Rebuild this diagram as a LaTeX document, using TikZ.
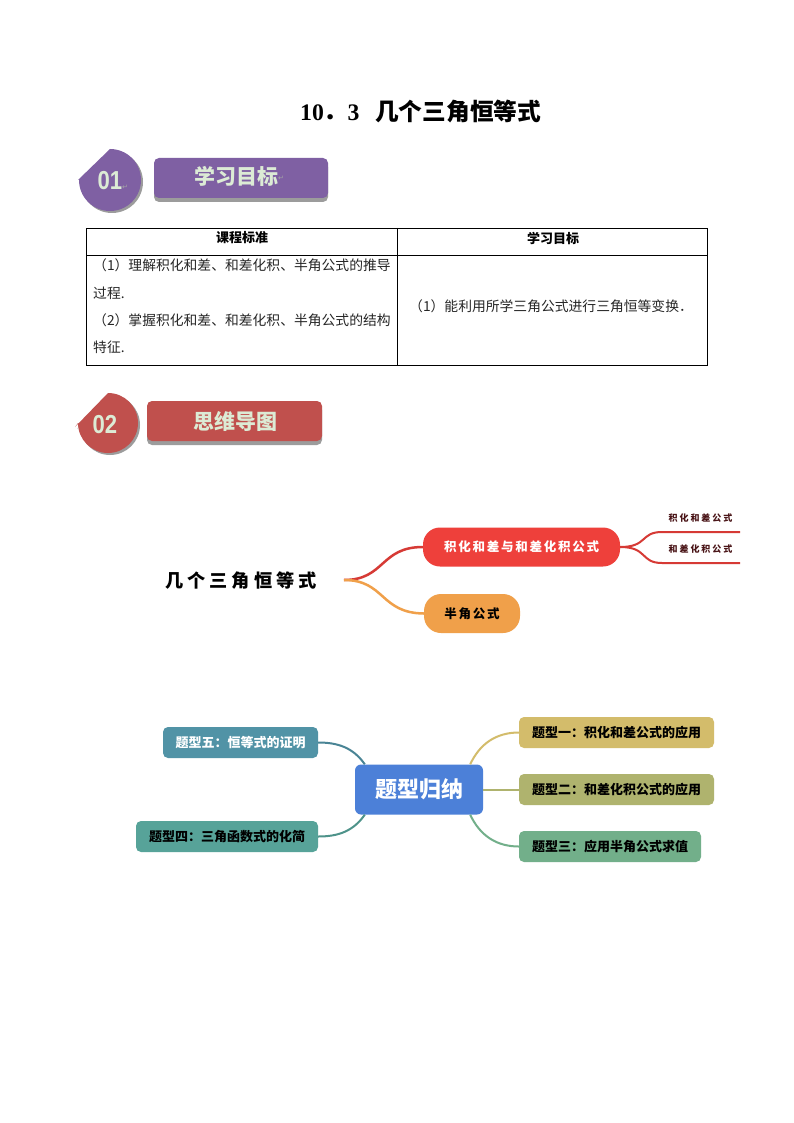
\documentclass[tikz,border=0pt]{standalone}
\usepackage{fontspec}
\setmainfont{Liberation Serif}
\newfontfamily\cjk{Noto Sans CJK SC}
\newfontfamily\cjkmid[LetterSpace=22]{Noto Sans CJK SC}
\newfontfamily\cjkwide[LetterSpace=22]{Noto Sans CJK SC}
\newfontfamily\cjkpill[LetterSpace=14]{Noto Sans CJK SC}
\newfontfamily\numfont[FakeStretch=0.85]{Liberation Sans}
\newfontfamily\retfont{DejaVu Sans}
\definecolor{goalpurple}{HTML}{7F60A3}
\definecolor{mapred}{HTML}{C0504D}
\definecolor{paletext}{HTML}{DCEBD5}
\definecolor{shadowgray}{HTML}{9C9C9C}
\definecolor{pillred}{HTML}{EE403B}
\definecolor{pillorange}{HTML}{F0A04A}
\definecolor{leafmaroon}{HTML}{4A1518}
\definecolor{hubblue}{HTML}{4C80D8}
\definecolor{tifive}{HTML}{5193A6}
\definecolor{tifour}{HTML}{57A399}
\definecolor{tione}{HTML}{D3BC6B}
\definecolor{titwo}{HTML}{AFB36E}
\definecolor{tithree}{HTML}{72AF8A}
\tikzset{
	cell/.style={inner sep=0pt,anchor=west,text=black!85,font=\fontsize{13.8}{14}\selectfont\cjk},
	headcell/.style={inner sep=0pt,font=\fontsize{13}{13}\selectfont\cjk\bfseries},
	bar/.style={rounded corners=5pt},
	barlabel/.style={text=paletext,inner sep=0pt,font=\fontsize{21}{21}\selectfont\cjk\bfseries},
	badgelabel/.style={text=paletext,inner sep=0pt,font=\fontsize{26}{26}\selectfont\numfont\bfseries},
	retmark/.style={text=black!35,inner sep=0pt,anchor=west,font=\fontsize{7}{7}\selectfont\retfont},
	pill/.style={rounded corners=17pt,minimum height=39pt,inner sep=0pt},
	topicbox/.style={rounded corners=5pt,minimum height=31pt,inner sep=0pt,font=\fontsize{13}{13}\selectfont\cjk\bfseries},
	leaf/.style={inner sep=0pt,text=leafmaroon,font=\fontsize{9}{9}\selectfont\cjkmid\bfseries},
	branch/.style={line width=2.5pt},
	twig/.style={line width=2pt},
	spoke/.style={line width=2pt},
}
\begin{document}
\begin{tikzpicture}[x=1pt,y=-1pt]
	\useasboundingbox (0,0) rectangle (794,1123);
	\fill[white] (0,0) rectangle (794,1123);

	\node[inner sep=0pt,anchor=west,font=\fontsize{23.7}{24}\selectfont\bfseries] (title) at (300,111) {10{\cjk ．}3\ \ \,{\cjk 几个三角恒等式}};

	\fill[shadowgray] (80,182) -- (112,151) arc[start angle=-90,end angle=180,radius=31] -- cycle;
	\fill[goalpurple] (78,180) -- (110,149) arc[start angle=-90,end angle=180,radius=31] -- cycle;
	\node[badgelabel] (badgeone) at (110,181) {01};
	\node[retmark] (retone) at (122,187) {↵};
	\fill[shadowgray,bar] (154,162) rectangle (328,202);
	\fill[goalpurple,bar] (154,158) rectangle (328,198);
	\node[barlabel] (goal) at (236,176) {学习目标};
	\node[retmark] (rettwo) at (278,178) {↵};

	\draw[line width=0.8pt] (86,228) rectangle (707,365);
	\draw[line width=0.8pt] (86,255) -- (707,255);
	\draw[line width=0.8pt] (397,228) -- (397,365);
	\node[headcell] (standard) at (242,238) {课程标准};
	\node[headcell] (target) at (553,238) {学习目标};
	\node[cell] (lineone) at (93,265) {（1）理解积化和差、和差化积、半角公式的推导};
	\node[cell] (linetwo) at (93,293) {过程.};
	\node[cell] (linethree) at (93,320) {（2）掌握积化和差、和差化积、半角公式的结构};
	\node[cell] (linefour) at (93,347) {特征.};
	\node[cell] (linefive) at (409,306) {（1）能利用所学三角公式进行三角恒等变换．};

	\fill[shadowgray] (77,429) -- (110,395) arc[start angle=-90,end angle=180,radius=30] -- cycle;
	\fill[mapred] (75,427) -- (108,393) arc[start angle=-90,end angle=180,radius=30] -- cycle;
	\node[badgelabel] (badgetwo) at (105,425) {02};
	\fill[shadowgray,bar] (147,405) rectangle (322,445);
	\fill[mapred,bar] (147,401) rectangle (322,441);
	\node[barlabel] (mindmap) at (235,421) {思维导图};

	\node[inner sep=0pt,anchor=west,font=\fontsize{18.2}{18}\selectfont\cjkwide\bfseries] (rootnode) at (165,581) {几个三角恒等式};
	\coordinate (rootend) at (344,580);
	\node[pill,fill=pillred,minimum width=197pt,text=white,font=\fontsize{12.5}{13}\selectfont\cjkpill\bfseries] (sumpill) at (521.5,547) {积化和差与和差化积公式};
	\node[pill,fill=pillorange,minimum width=96pt,text=black,font=\fontsize{12.5}{13}\selectfont\cjkpill\bfseries] (halfpill) at (472,613.5) {半角公式};
	\node[leaf] (leafone) at (700.5,518) {积化和差公式};
	\node[leaf] (leaftwo) at (700.5,549) {和差化积公式};
	\coordinate (leafoneend) at (740,532);
	\coordinate (leaftwoend) at (740,563);
	\draw[branch,pillred!90!black] (rootend) .. controls (385,580) and (380,547) .. (sumpill.west);
	\draw[branch,pillorange] (rootend) .. controls (385,580) and (380,613) .. (halfpill.west);
	\draw[twig,pillred!90!black] (sumpill.east) .. controls (648,547) and (640,532) .. (662,532) -- (leafoneend);
	\draw[twig,pillred!90!black] (sumpill.east) .. controls (648,547) and (640,563) .. (662,563) -- (leaftwoend);

	\node[rounded corners=6pt,fill=hubblue,minimum width=128pt,minimum height=50pt,inner sep=0pt,text=white,font=\fontsize{22}{22}\selectfont\cjk\bfseries] (hub) at (419,789.5) {题型归纳};
	\node[topicbox,fill=tifive,minimum width=155pt,text=white] (typefive) at (240.5,742.5) {题型五：恒等式的证明};
	\node[topicbox,fill=tifour,minimum width=182pt,text=black] (typefour) at (227,836.5) {题型四：三角函数式的化简};
	\node[topicbox,fill=tione,minimum width=195pt,text=black] (typeone) at (616.5,732.5) {题型一：积化和差公式的应用};
	\node[topicbox,fill=titwo,minimum width=195pt,text=black] (typetwo) at (616.5,789.5) {题型二：和差化积公式的应用};
	\node[topicbox,fill=tithree,minimum width=182pt,text=black] (typethree) at (610,846.5) {题型三：应用半角公式求值};
	\draw[spoke,tifive!90!black] ([xshift=10pt]hub.north west) to[out=125,in=0] (typefive.east);
	\draw[spoke,tifour!90!black] ([xshift=10pt]hub.south west) to[out=235,in=0] (typefour.east);
	\draw[spoke,tione] ([xshift=-13pt]hub.north east) to[out=65,in=180] (typeone.west);
	\draw[spoke,titwo] (hub.east) -- (typetwo.west);
	\draw[spoke,tithree] ([xshift=-13pt]hub.south east) to[out=295,in=180] (typethree.west);
\end{tikzpicture}
\end{document}
